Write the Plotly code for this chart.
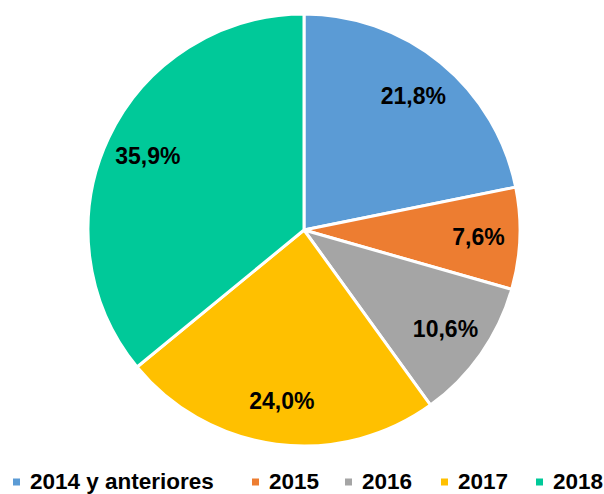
import plotly.graph_objects as go

categories = ["2014 y anteriores", "2015", "2016", "2017", "2018"]
values = [21.8, 7.6, 10.6, 24.0, 35.9]
colors = ["#5B9BD5", "#ED7D31", "#A5A5A5", "#FFC000", "#00C999"]
labels_text = [f"{v:.1f}%".replace(".", ",") for v in values]

W, H = 604, 494
FONT = "Arial, Liberation Sans, sans-serif"
dom = dict(x=[88 / W, 520 / W], y=[48 / H, 480 / H])

fig = go.Figure()
# coloured pie
fig.add_trace(go.Pie(
    labels=categories, values=values,
    marker=dict(colors=colors, line=dict(color="white", width=3)),
    sort=False, direction="clockwise", rotation=0,
    textinfo="none", domain=dom, hoverinfo="label+percent",
    showlegend=False,
))
# transparent ring that carries the value labels at ~0.8 R
fig.add_trace(go.Pie(
    labels=categories, values=values, hole=0.6,
    text=labels_text, texttemplate="%{text}",
    textposition="inside", insidetextorientation="horizontal",
    textfont=dict(family=FONT, size=23, color="black", weight="bold"),
    marker=dict(colors=["rgba(0,0,0,0)"] * len(values), line=dict(width=0)),
    sort=False, direction="clockwise", rotation=0,
    domain=dom, hoverinfo="skip", showlegend=False,
))

# legend drawn manually (single row at bottom)
leg_text_x = [29, 268, 361, 457, 552]
leg_y = 481
shapes, annotations = [], []
for cat, col, tx in zip(categories, colors, leg_text_x):
    sx = tx - 12.5
    shapes.append(dict(type="rect", xref="paper", yref="paper",
                       x0=(sx - 3.5) / W, x1=(sx + 3.5) / W,
                       y0=(H - leg_y - 1 - 3.5) / H, y1=(H - leg_y - 1 + 3.5) / H,
                       fillcolor=col, line=dict(width=0)))
    annotations.append(dict(text=cat, xref="paper", yref="paper",
                            x=tx / W, y=(H - leg_y) / H,
                            xanchor="left", yanchor="middle", showarrow=False,
                            borderpad=0,
                            font=dict(family=FONT, size=22.5, color="black", weight="bold")))

fig.update_layout(
    width=W, height=H,
    margin=dict(l=0, r=0, t=0, b=0),
    paper_bgcolor="white", plot_bgcolor="white",
    showlegend=False,
    uniformtext=dict(minsize=23, mode="show"),
    shapes=shapes, annotations=annotations,
)

fig.write_html("out.html",
               config={"displayModeBar": False},
               post_script="document.body.style.margin='0';document.body.style.padding='0';")
